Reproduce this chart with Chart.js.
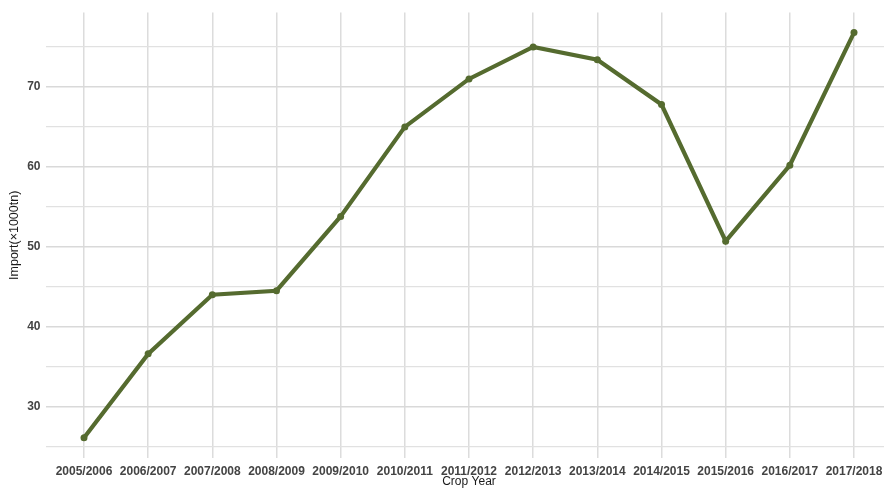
<!DOCTYPE html>
<html>
<head>
<meta charset="utf-8">
<script src="https://cdn.jsdelivr.net/npm/chart.js@4/dist/chart.umd.min.js"></script>
<style>
  html, body { margin: 0; padding: 0; background: #fff; overflow: hidden; }
  #wrap { width: 896px; height: 489px; }
</style>
</head>
<body>
<div id="wrap"><canvas id="c" width="896" height="489"></canvas></div>
<script>
const cropYears = ['2005/2006', '2006/2007', '2007/2008', '2008/2009', '2009/2010', '2010/2011', '2011/2012',
  '2012/2013', '2013/2014', '2014/2015', '2015/2016', '2016/2017', '2017/2018'];
const importVals = [26.1, 36.6, 44.0, 44.5, 53.8, 65.0, 71.0, 75.0, 73.4, 67.8, 50.7, 60.2, 76.8];
const yTicks = [25, 30, 35, 40, 45, 50, 55, 60, 65, 70, 75];

const FONT = "'Liberation Sans', Arial, Helvetica, sans-serif";
const green = '#556b2f';

new Chart(document.getElementById('c'), {
  type: 'line',
  data: {
    datasets: [{
      data: importVals.map((v, i) => ({ x: i, y: v })),
      borderColor: green, backgroundColor: green,
      borderWidth: 4.2, pointRadius: 3.5, pointHoverRadius: 3.5,
      pointBackgroundColor: green, pointBorderWidth: 0, tension: 0,
    }],
  },
  options: {
    responsive: false, animation: false,
    layout: { padding: { top: 12.6, left: 0, right: 0, bottom: 0 } },
    plugins: { legend: { display: false }, tooltip: { enabled: false } },
    scales: {
      x: {
        type: 'linear', min: -0.6, max: cropYears.length - 1 + 0.6,
        afterBuildTicks: s => { s.ticks = cropYears.map((_, i) => ({ value: i })); },
        afterFit: s => { s.height = 31; },
        ticks: { autoSkip: false, maxRotation: 0, padding: 6, color: '#444',
          font: { family: FONT, size: 12, weight: 'bold' }, callback: v => cropYears[v] },
        grid: { color: '#dcdcdc', lineWidth: 1.5, drawTicks: false },
        border: { display: false },
        title: { display: true, text: 'Crop Year', color: '#1a1a1a', padding: { top: 0, bottom: 0 },
          font: { family: FONT, size: 12 } },
      },
      y: {
        min: 23.57, max: 79.3,
        afterBuildTicks: s => { s.ticks = yTicks.map(v => ({ value: v })); },
        afterFit: s => { s.width = 45.5; },
        ticks: { padding: 5, color: '#444', font: { family: FONT, size: 12, weight: 'bold' },
          callback: v => (v % 10 === 0 ? v : '') },
        grid: { color: c => (c.tick && c.tick.value % 10 === 0 ? '#d9d9d9' : '#e1e1e1'),
          lineWidth: c => (c.tick && c.tick.value % 10 === 0 ? 1.5 : 1.2), drawTicks: false },
        border: { display: false },
        title: { display: true, text: 'Import(×1000tn)', color: '#1a1a1a', padding: { top: 7, bottom: 0 },
          font: { family: FONT, size: 12.5 } },
      },
    },
  },
});
</script>
</body>
</html>
